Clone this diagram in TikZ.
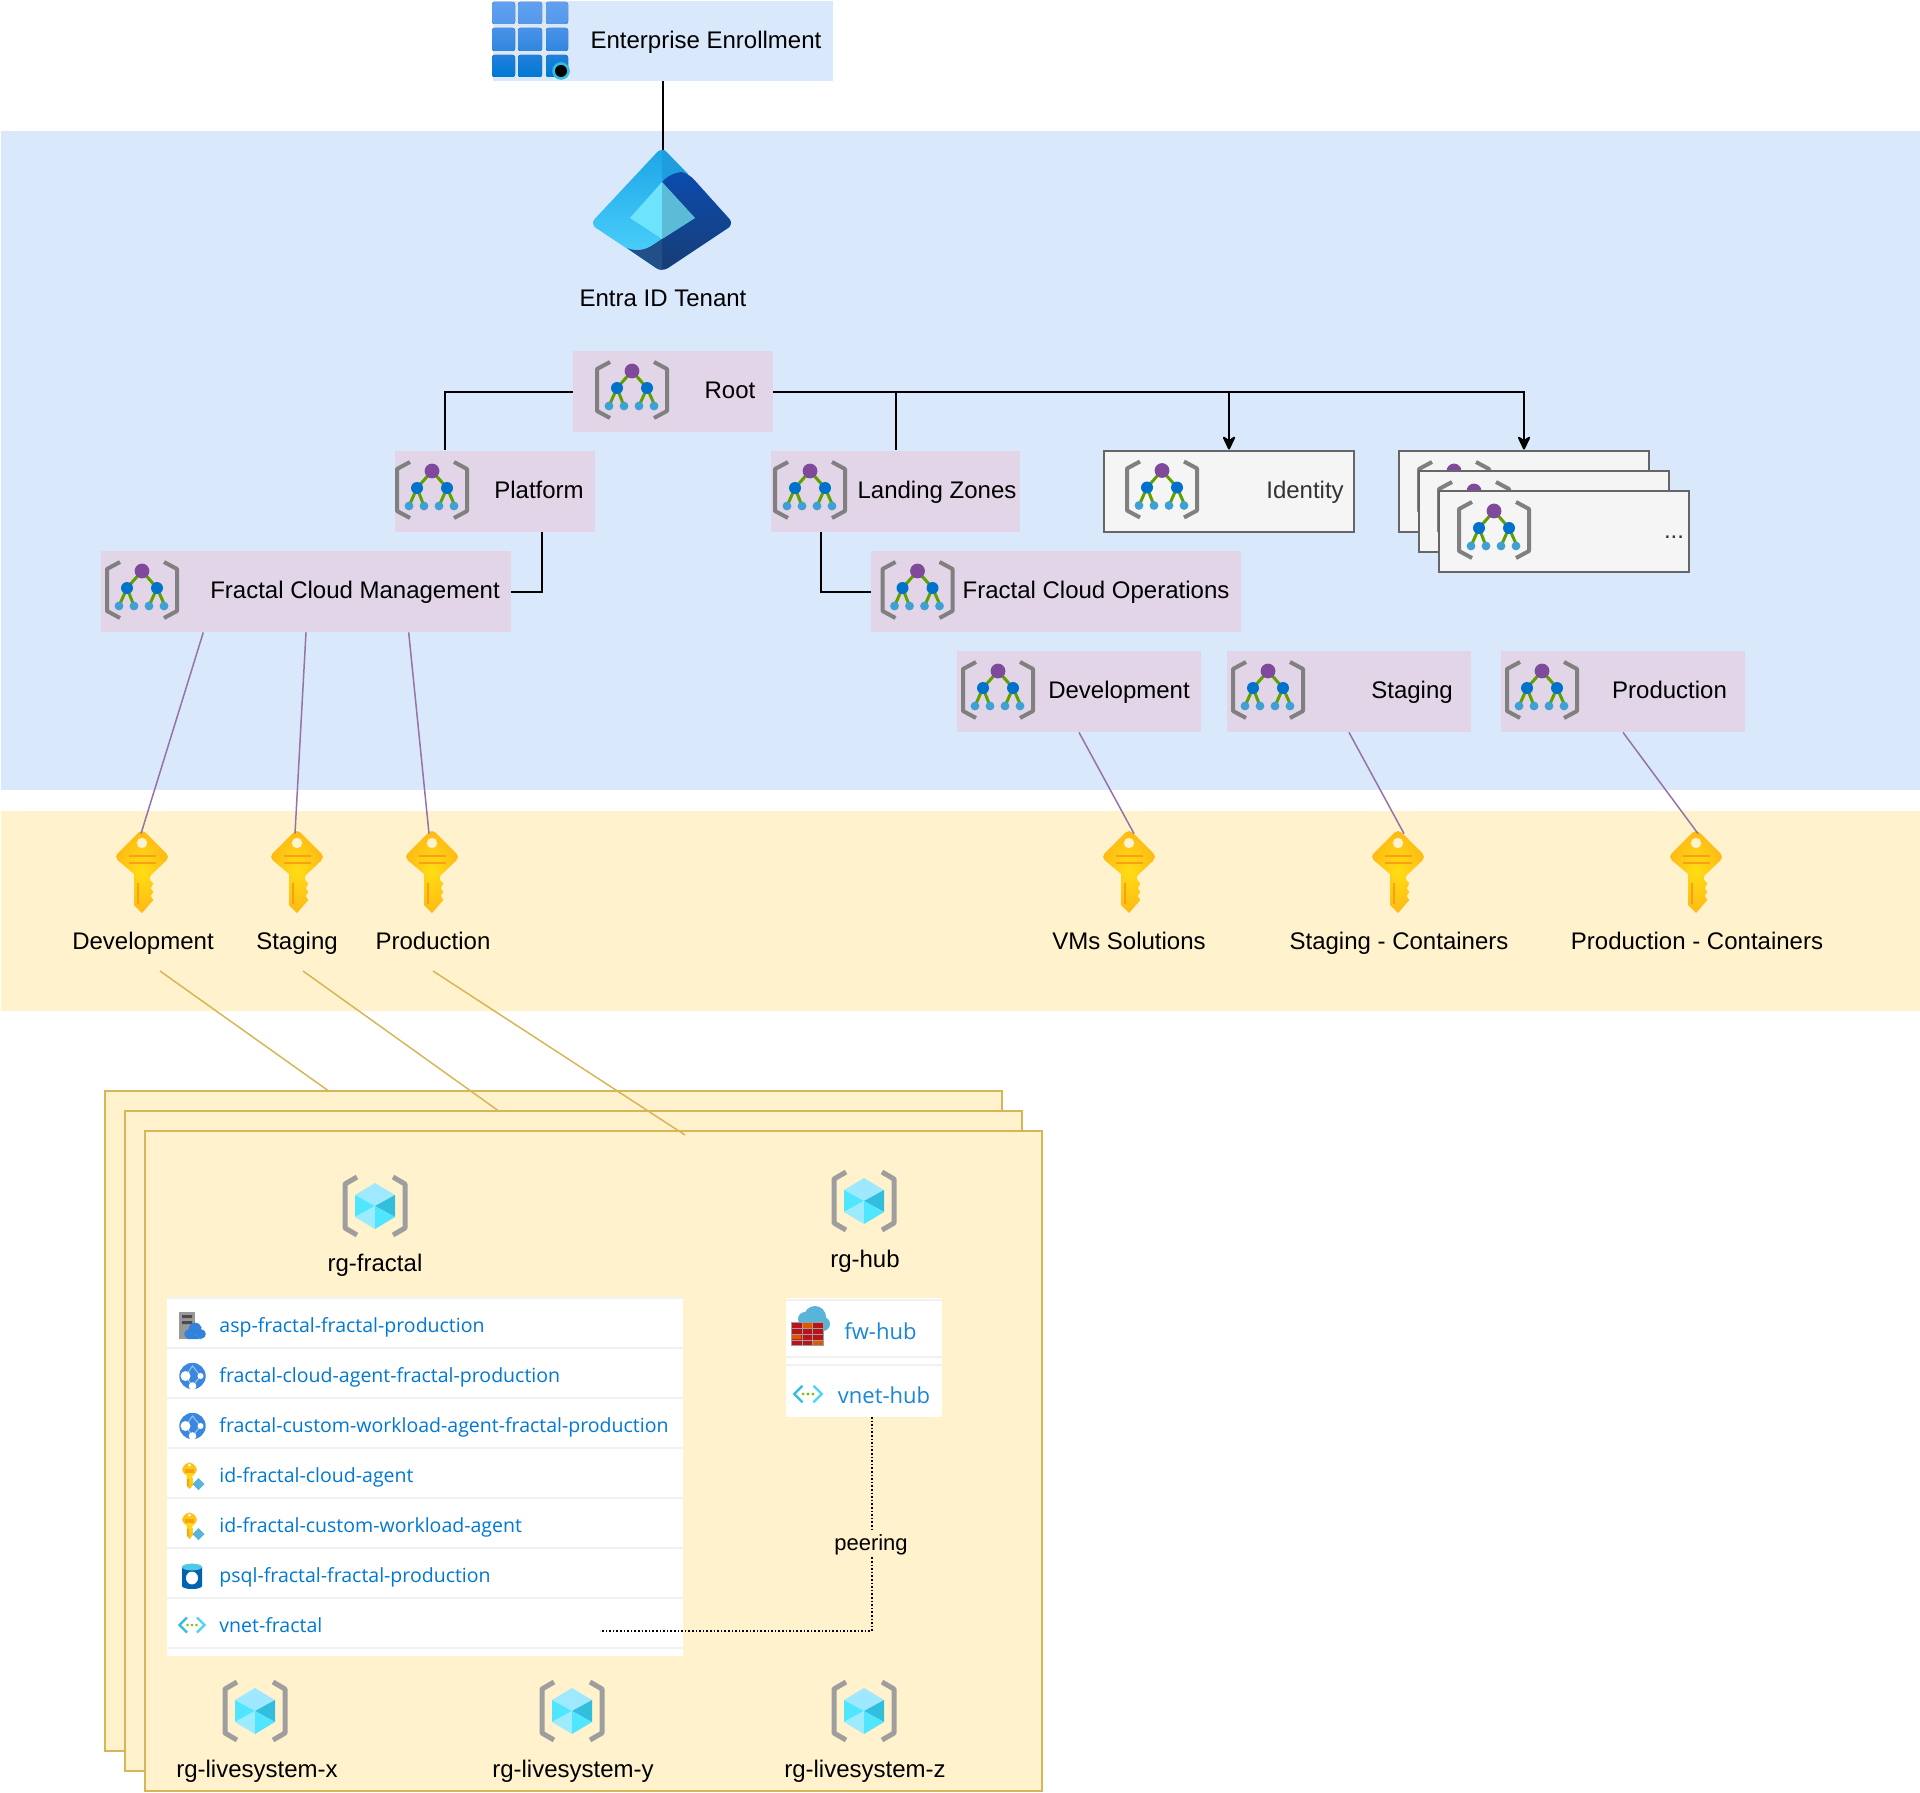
\documentclass[tikz,border=0pt]{standalone}
\usepackage{fontspec}
\setmainfont{Liberation Sans}
\newfontfamily\portalfont{Open Sans}
\usepackage{xcolor}
\usetikzlibrary{positioning, calc, arrows.meta}

\definecolor{blueband}{HTML}{DAE8FC}
\definecolor{yellowband}{HTML}{FFF2CC}
\definecolor{yellowedge}{HTML}{D6B656}
\definecolor{mgfill}{HTML}{E1D5E7}
\definecolor{mgline}{HTML}{9673A6}
\definecolor{greyfill}{HTML}{F5F5F5}
\definecolor{greyedge}{HTML}{666666}
\definecolor{linkblue}{HTML}{0078D4}
\definecolor{rowline}{HTML}{F1F1F1}

\tikzset{
  mgicon/.pic={
    \draw[color=black!50,line width=2pt,line join=round] (-22,-28) -- (-35,-21) -- (-35,21) -- (-22,28);
    \draw[color=black!50,line width=2pt,line join=round] (22,-28) -- (35,-21) -- (35,21) -- (22,28);
    \draw[color={rgb,255:red,94;green,160;blue,0},line width=1.5pt] (-23,16) -- (-15,-2) -- (-8,16) (23,16) -- (15,-2) -- (7,16) (-15,-2) -- (0,-19) -- (15,-2);
    \fill[color={rgb,255:red,127;green,74;blue,155}] (0,-19) circle (3.7pt);
    \fill[color={rgb,255:red,0;green,114;blue,204}] (-15,-2) circle (3pt) (15,-2) circle (3pt);
    \fill[color={rgb,255:red,62;green,160;blue,211}] (-23,16) circle (2.2pt) (-8,16) circle (2.2pt) (7,16) circle (2.2pt) (22,16) circle (2.2pt);
  },
  rgicon/.pic={
    \draw[color=black!38,line width=2.5pt,line join=round] (-18,-29) -- (-30,-22) -- (-30,22) -- (-18,29);
    \draw[color=black!38,line width=2.5pt,line join=round] (18,-29) -- (30,-22) -- (30,22) -- (18,29);
    \fill[color={rgb,255:red,158;green,233;blue,255}] (0,-23) -- (20,-11) -- (0,0) -- (-20,-11) -- cycle;
    \fill[color={rgb,255:red,50;green,190;blue,221}] (20,-11) -- (20,11) -- (0,0) -- cycle;
    \fill[color={rgb,255:red,80;green,230;blue,255}] (-20,-11) -- (-20,11) -- (0,0) -- cycle;
    \fill[color={rgb,255:red,156;green,235;blue,255}] (-20,11) -- (0,23) -- (0,0) -- cycle;
    \fill[color={rgb,255:red,80;green,230;blue,255}] (20,11) -- (0,23) -- (0,0) -- cycle;
  },
  keyicon/.pic={
    \shade[inner color={rgb,255:red,255;green,222;blue,20},outer color={rgb,255:red,255;green,184;blue,20}]
      [rounded corners=2.5pt] (0,-43) -- (28,-15) [sharp corners] -- (8,4) -- (8,8) -- (11.3,11.3) -- (8.7,16.3) -- (11.3,19.7) -- (8.7,24) -- (11.3,28) -- (0,41) -- (-8,33) -- (-8,2) [rounded corners=2.5pt] -- (-28,-15) -- cycle;
    \fill[color=yellowband] (0,-29) circle (2.6pt);
    \draw[color={rgb,255:red,250;green,160;blue,20},line width=1pt] (-13,-16) -- (14,-16) (-13,-9.5) -- (14,-9.5) (-3.7,11) -- (-3.7,32);
  },
  webicon/.pic={
    \fill[color={rgb,255:red,59;green,134;blue,222}] (0,0) circle (6.6pt);
    \draw[color={rgb,255:red,150;green,200;blue,240},line width=.5pt] (-7,0) -- (0,-10) -- (8,0) -- (0,10) -- cycle;
    \fill[white] (-7,0) circle (2.5pt) (8,0) circle (1.5pt) (0,10) circle (1.9pt);
  },
  idicon/.pic={
    \pic[scale=.34] at (-2,0) {keyicon};
    \fill[color={rgb,255:red,89;green,180;blue,217}] (7,3) -- (13,9) -- (7,15) -- (1,9) -- cycle;
  },
  vneticon/.pic={
    \draw[color={rgb,255:red,50;green,190;blue,221},line width=1.1pt] (-5,-7.5) -- (-12.5,0) -- (-5,7.5);
    \draw[color={rgb,255:red,80;green,210;blue,240},line width=1.1pt] (5,-7.5) -- (12.5,0) -- (5,7.5);
    \fill[color={rgb,255:red,127;green,186;blue,0}] (-4.5,0) circle (.7pt) (0,0) circle (.7pt) (4.5,0) circle (.7pt);
  },
}

\begin{document}
\begin{tikzpicture}[x=.5pt,y=-.5pt,
                  mg/.style={rectangle,fill=mgfill,inner sep=0pt,minimum height=40.5pt},
                  greybox/.style={rectangle,draw=greyedge,fill=greyfill,line width=1pt,inner sep=0pt,minimum width=125pt,minimum height=40.5pt},
                  subbox/.style={rectangle,draw=yellowedge,fill=yellowband,line width=1pt,inner sep=0pt,minimum width=448.5pt,minimum height=330pt},
                  keybox/.style={rectangle,inner sep=0pt,minimum width=25pt,minimum height=38pt},
                  lbl/.style={inner sep=0pt,font=\fontsize{12}{14}\selectfont,text height=10.1pt,text depth=2.6pt},
                  res/.style={anchor=west,inner sep=0pt,text=linkblue,font=\portalfont\fontsize{9.76}{11}\selectfont,text height=7pt,text depth=2pt},
                  hubres/.style={anchor=west,inner sep=0pt,text=linkblue!90!white,font=\portalfont\fontsize{11}{13}\selectfont,text height=8pt,text depth=2pt},
                  link/.style={line width=1pt},
                  post/.style={->,line width=1pt,>={Stealth[round,length=8pt,width=7.5pt]}},
                  mglink/.style={color=mgline,line width=.75pt},
                  sublink/.style={color=yellowedge,line width=.75pt},
                  peer/.style={line width=.8pt,densely dotted}
                  ]
  \useasboundingbox (0,0) rectangle (1920,1792);

  % bands
  \fill[blueband] (1,131) rectangle (1920,790);
  \fill[yellowband] (1,811) rectangle (1920,1011);

  % enrollment and tenant
  \node[rectangle,fill=blueband,inner sep=0pt,minimum width=170pt,minimum height=40pt] (enroll) at (663,41) {};
  \fill[top color={rgb,255:red,96;green,160;blue,240},bottom color={rgb,255:red,84;green,152;blue,236},rounded corners=1.2pt] (492,2) rectangle (515,24);
  \fill[top color={rgb,255:red,96;green,160;blue,240},bottom color={rgb,255:red,84;green,152;blue,236},rounded corners=1.2pt] (518,2) rectangle (542,24);
  \fill[top color={rgb,255:red,96;green,160;blue,240},bottom color={rgb,255:red,84;green,152;blue,236},rounded corners=1.2pt] (546,2) rectangle (568,24);
  \fill[top color={rgb,255:red,74;green,146;blue,232},bottom color={rgb,255:red,48;green,134;blue,222},rounded corners=1.2pt] (492,28) rectangle (515,51);
  \fill[top color={rgb,255:red,74;green,146;blue,232},bottom color={rgb,255:red,48;green,134;blue,222},rounded corners=1.2pt] (518,28) rectangle (542,51);
  \fill[top color={rgb,255:red,74;green,146;blue,232},bottom color={rgb,255:red,48;green,134;blue,222},rounded corners=1.2pt] (546,28) rectangle (568,51);
  \fill[top color={rgb,255:red,32;green,128;blue,220},bottom color=linkblue,rounded corners=1.2pt] (492,55) rectangle (515,77);
  \fill[top color={rgb,255:red,32;green,128;blue,220},bottom color=linkblue,rounded corners=1.2pt] (518,55) rectangle (542,77);
  \fill[top color={rgb,255:red,32;green,128;blue,220},bottom color=linkblue,rounded corners=1.2pt] (546,55) rectangle (568,77);
  \fill[color={rgb,255:red,50;green,190;blue,221}] (561,71) circle (4.4pt);
  \fill[black] (561,71) circle (3pt);
  \node[lbl] (enrolllabel) at (706,41) {Enterprise Enrollment};

  \coordinate (entratop) at (663,150);
  \begin{scope}[shift={(662,210)}]
    \shade[top color={rgb,255:red,28;green,165;blue,232},bottom color={rgb,255:red,82;green,214;blue,252},rounded corners=3.5pt] (0,-63) -- (72,14) -- (0,62) -- (-72,14) -- cycle;
    \fill[color={rgb,255:red,30;green,158;blue,222}] (0,-60) -- (2,-60) -- (26,-36) -- (0,-28) -- cycle;
    \shade[top color={rgb,255:red,11;green,76;blue,174},bottom color={rgb,255:red,24;green,60;blue,116},rounded corners=3.5pt] (0,-28) .. controls (9,-38) and (20,-38) .. (27,-36) -- (72,14) -- (0,62) -- (-35,38) [sharp corners] .. controls (-20,44) and (-10,36) .. (0,29) -- (33,8) -- cycle;
    \fill[color={rgb,255:red,33;green,80;blue,137}] (0,29) .. controls (-10,36) and (-20,44) .. (-35,38) -- (-4,59) -- (0,60) -- cycle;
    \fill[color={rgb,255:red,110;green,228;blue,252}] (0,-28) -- (-32,8) -- (0,29) -- cycle;
    \fill[color={rgb,255:red,92;green,188;blue,216}] (0,-28) -- (33,8) -- (0,29) -- cycle;
  \end{scope}
  \node[lbl] (entralabel) at (663,299) {Entra ID Tenant};

  % management groups
  \node[mg,minimum width=100pt] (root) at (673,391.5) {};
  \pic at (632,390) {mgicon};
  \node[lbl] (rootlabel) at (730,391) {Root};

  \node[mg,minimum width=100pt] (platform) at (495,491) {};
  \pic at (432,490) {mgicon};
  \node[lbl] (platformlabel) at (539,491) {Platform};

  \node[mg,minimum width=124.5pt] (landing) at (895.5,491) {};
  \pic at (810,490) {mgicon};
  \node[lbl] (landinglabel) at (937,491) {Landing Zones};

  \node[mg,minimum width=205pt] (fcm) at (306,591.5) {};
  \pic at (142,590) {mgicon};
  \node[lbl] (fcmlabel) at (355,591) {Fractal Cloud Management};

  \node[mg,minimum width=185pt] (fco) at (1056,591.5) {};
  \pic at (917.5,590) {mgicon};
  \node[lbl] (fcolabel) at (1096,591) {Fractal Cloud Operations};

  \node[mg,minimum width=122pt] (mgdev) at (1079,691.5) {};
  \pic at (998,690) {mgicon};
  \node[lbl] (mgdevlabel) at (1119,691) {Development};

  \node[mg,minimum width=122pt] (mgstag) at (1349,691.5) {};
  \pic at (1268,690) {mgicon};
  \node[lbl] (mgstaglabel) at (1412,691) {Staging};

  \node[mg,minimum width=122pt] (mgprod) at (1623,691.5) {};
  \pic at (1542,690) {mgicon};
  \node[lbl] (mgprodlabel) at (1669.5,691) {Production};

  \node[greybox] (identity) at (1229,491) {};
  \pic at (1162,489.5) {mgicon};
  \node[lbl,text=black!80] (identitylabel) at (1305,491) {Identity};

  \node[greybox] (stacka) at (1524,491) {};
  \pic at (1454,490) {mgicon};
  \node[greybox] (stackb) at (1544,511) {};
  \pic at (1474,510) {mgicon};
  \node[greybox] (stackc) at (1564,531) {};
  \pic at (1494,530) {mgicon};
  \node[lbl,text=black!80] (stackdots) at (1674,531) {...};

  % links in the tenant
  \coordinate (platformtop) at ($(platform.north west)!.25!(platform.north east)$);
  \coordinate (platformfoot) at (542,532);
  \coordinate (landingfoot) at (821,532);
  \draw[link] (enroll.south) -- (entratop);
  \draw[link] (root.west) -| (platformtop);
  \draw[link] (root.east) -| (landing.north);
  \draw[post] (root.east) -| (identity.north);
  \draw[post] (root.east) -| (stacka.north);
  \draw[link] (platformfoot) |- (fcm.east);
  \draw[link] (landingfoot) |- (fco.west);

  % subscriptions
  \node[keybox] (keydev) at (142,872) {};
  \pic at (142,872) {keyicon};
  \node[lbl] (keydevlabel) at (143,942) {Development};
  \node[keybox] (keystag) at (297,872) {};
  \pic at (297,872) {keyicon};
  \node[lbl] (keystaglabel) at (297,942) {Staging};
  \node[keybox] (keyprod) at (432,872) {};
  \pic at (432,872) {keyicon};
  \node[lbl] (keyprodlabel) at (433,942) {Production};
  \node[keybox] (keyvms) at (1129,872) {};
  \pic at (1129,872) {keyicon};
  \node[lbl] (keyvmslabel) at (1129,942) {VMs Solutions};
  \node[keybox] (keysc) at (1398,872) {};
  \pic at (1398,872) {keyicon};
  \node[lbl] (keysclabel) at (1399,942) {Staging - Containers};
  \node[keybox] (keypc) at (1696,872) {};
  \pic at (1696,872) {keyicon};
  \node[lbl] (keypclabel) at (1697,942) {Production - Containers};

  \draw[mglink] ($(fcm.south west)!.25!(fcm.south east)$) -- ($(keydev.north)+(-1,0)$);
  \draw[mglink] (fcm.south) -- ($(keystag.north)+(-2,0)$);
  \draw[mglink] ($(fcm.south west)!.75!(fcm.south east)$) -- ($(keyprod.north)+(-3,0)$);
  \draw[mglink] (mgdev.south) -- ($(keyvms.north)+(5,0)$);
  \draw[mglink] (mgstag.south) -- ($(keysc.north)+(6,0)$);
  \draw[mglink] (mgprod.south) -- ($(keypc.north)+(2,0)$);

  % subscription contents
  \node[subbox] (suba) at (553.5,1421) {};
  \node[subbox] (subb) at (573.5,1441) {};
  \node[subbox] (subc) at (593.5,1461) {};

  \coordinate (devfoot) at (160,971);
  \coordinate (stagfoot) at (303,971);
  \coordinate (prodfoot) at (433,971);
  \coordinate (subaend) at (328,1090.5);
  \coordinate (subbend) at (498,1110.5);
  \coordinate (subcend) at (685,1135);
  \draw[sublink] (devfoot) -- (subaend);
  \draw[sublink] (stagfoot) -- (subbend);
  \draw[sublink] (prodfoot) -- (subcend);

  \pic at (375,1206) {rgicon};
  \node[lbl] (rgfractal) at (375,1264) {rg-fractal};
  \pic at (864,1201) {rgicon};
  \node[lbl] (rghub) at (865,1260) {rg-hub};
  \pic at (255,1711) {rgicon};
  \node[lbl] (rgx) at (257,1770) {rg-livesystem-x};
  \pic at (572,1711) {rgicon};
  \node[lbl] (rgy) at (573,1770) {rg-livesystem-y};
  \pic at (864,1711) {rgicon};
  \node[lbl] (rgz) at (865,1770) {rg-livesystem-z};

  % resource list of rg-fractal
  \node[rectangle,fill=white,inner sep=0pt,minimum width=258pt,minimum height=179pt] (reslist) at (425,1477) {};
  \draw[rowline,line width=1pt] (167,1298) -- (683,1298) (167,1348) -- (683,1348) (167,1398) -- (683,1398) (167,1448) -- (683,1448) (167,1498) -- (683,1498) (167,1548) -- (683,1548) (167,1598) -- (683,1598) (167,1648) -- (683,1648);

  \fill[black!40] (179,1312) rectangle (195,1339);
  \fill[black!70] (182,1315) rectangle (192,1318) (182,1321) rectangle (192,1324);
  \fill[color={rgb,255:red,50;green,130;blue,220}] (187,1339) -- (202,1339) arc (90:-90:-3pt) -- cycle;
  \fill[color={rgb,255:red,50;green,130;blue,220}] (195,1329) circle (3.2pt) (189,1334) circle (2.4pt) (201,1334) circle (2.4pt);
  \node[res] (aspfractal) at (219,1327) {asp-fractal-fractal-production};

  \pic at (192.5,1376) {webicon};
  \node[res] (cloudagent) at (219,1377) {fractal-cloud-agent-fractal-production};
  \pic at (192.5,1426) {webicon};
  \node[res] (customagent) at (219,1427) {fractal-custom-workload-agent-fractal-production};
  \pic at (191.5,1475) {idicon};
  \node[res] (idcloud) at (219,1477) {id-fractal-cloud-agent};
  \pic at (191.5,1525) {idicon};
  \node[res] (idcustom) at (219,1527) {id-fractal-custom-workload-agent};

  \fill[color={rgb,255:red,0;green,99;blue,177}] (182,1567) -- (182,1586) arc (180:360:5pt and 1.5pt) -- (202,1567) -- cycle;
  \fill[color={rgb,255:red,80;green,200;blue,232}] (192,1567) ellipse (5pt and 1.7pt);
  \fill[white] (192,1578) ellipse (3pt and 3.2pt);
  \node[res] (psqlfractal) at (219,1577) {psql-fractal-fractal-production};

  \pic at (192,1625) {vneticon};
  \node[res] (vnetfractal) at (219,1627) {vnet-fractal};

  % resource list of rg-hub
  \node[rectangle,fill=white,inner sep=0pt,minimum width=78pt,minimum height=59.5pt] (hublist) at (864,1357.5) {};
  \draw[rowline,line width=1pt] (786,1300) -- (942,1300) (786,1357) -- (942,1357) (786,1365) -- (942,1365);

  \fill[color={rgb,255:red,89;green,180;blue,217}] (815,1317) circle (5.5pt) (823,1324) circle (3.5pt) (805,1319) circle (3.5pt) (798,1323) rectangle (823,1330);
  \fill[color={rgb,255:red,186;green,20;blue,26}] (791,1322) rectangle (823,1345);
  \fill[color={rgb,255:red,221;green,89;blue,0}] (802,1323) rectangle (812,1328) (791,1334) rectangle (801,1339) (813,1340) rectangle (823,1345);
  \draw[black!38,line width=.5pt] (791,1322) rectangle (823,1345) (791,1328) -- (823,1328) (791,1334) -- (823,1334) (791,1340) -- (823,1340) (802,1322) -- (802,1345) (812,1322) -- (812,1345);
  \node[hubres] (fwhub) at (844,1333) {fw-hub};

  \pic[scale=1.1] at (808,1394) {vneticon};
  \node[hubres] (vnethub) at (837.5,1397) {vnet-hub};

  % peering
  \coordinate (hubfoot) at (872,1417);
  \coordinate (peerend) at (600,1631);
  \draw[peer] (hubfoot) |- (peerend);
  \node[lbl,fill=yellowband,font=\fontsize{11}{13}\selectfont] (peerlabel) at (871,1543) {peering};
\end{tikzpicture}
\end{document}
